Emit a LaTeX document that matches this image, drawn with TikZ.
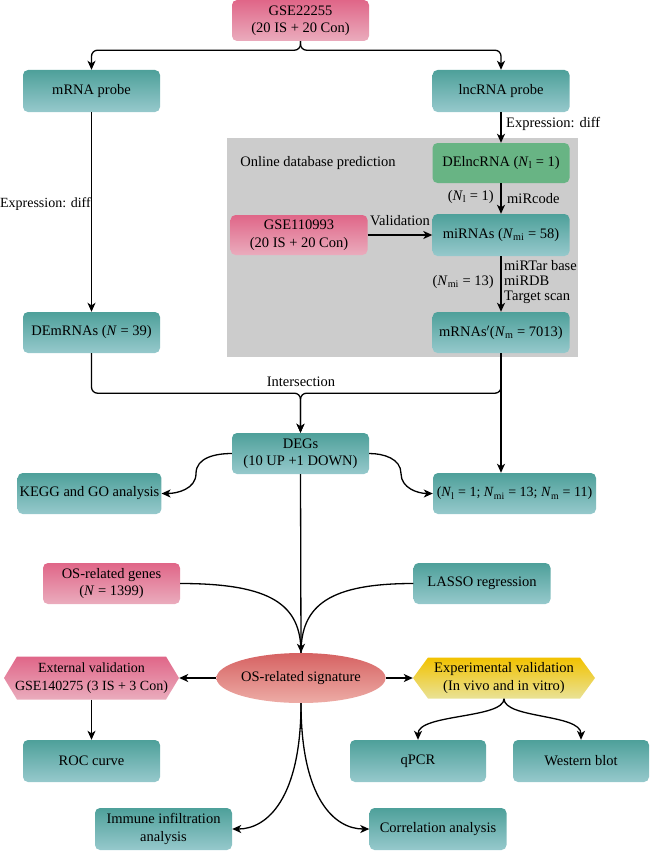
\documentclass[tikz,border=0pt]{standalone}
\usepackage{fontspec}
\setmainfont{Liberation Serif}
\usetikzlibrary{arrows.meta,shapes.geometric}
\definecolor{tealtop}{RGB}{78,160,154}
\definecolor{tealbot}{RGB}{150,201,204}
\definecolor{pinktop}{RGB}{224,102,136}
\definecolor{pinkbot}{RGB}{234,172,189}
\definecolor{greenbox}{RGB}{104,180,132}
\definecolor{graybg}{RGB}{204,204,204}
\definecolor{redtop}{RGB}{214,98,98}
\definecolor{redbot}{RGB}{237,172,166}
\definecolor{yeltop}{RGB}{242,194,0}
\definecolor{yelbot}{RGB}{233,226,150}
\begin{document}
\begin{tikzpicture}[x=1pt,y=1pt,
  fs/.style={font=\fontsize{14.5}{17.5}\selectfont},
  fsm/.style={font=\fontsize{14}{17.5}\selectfont},
  box/.style={fs, rounded corners=5pt, minimum width=137pt, minimum height=42pt, align=center, inner sep=2pt},
  tealbox/.style={box, top color=tealtop, bottom color=tealbot},
  pinkbox/.style={box, top color=pinktop, bottom color=pinkbot},
  lbl/.style={fs, inner sep=1pt},
  arr/.style={-{Stealth[length=9pt,width=8pt,inset=2.5pt]}, line width=1.3pt},
  ln/.style={line width=1.3pt},
]
\useasboundingbox (0,0) rectangle (650,-851);
\fill[graybg] (227,-138) rectangle (578,-357);
\node[lbl] (odp) at (318,-163) {Online database prediction};

\node[pinkbox, minimum height=41pt] (gse1) at (300.5,-20.5) {GSE22255\\(20 IS + 20 Con)};
\node[tealbox] (mrna) at (91.5,-91) {mRNA probe};
\node[tealbox] (lnc) at (501,-91) {lncRNA probe};
\node[box, fill=greenbox, minimum height=40pt] (delnc) at (501,-163) {DElncRNA (\textit{N}\textsubscript{l} = 1)};
\node[tealbox] (mirna) at (501,-235) {miRNAs (\textit{N}\textsubscript{mi} = 58)};
\node[pinkbox, minimum height=40pt] (gse2) at (299,-235) {GSE110993\\(20 IS + 20 Con)};
\node[tealbox, minimum height=41pt] (mrnas) at (501,-332.5) {mRNAs$'$(\textit{N}\textsubscript{m} = 7013)};
\node[tealbox, minimum height=41pt] (demrna) at (91.5,-332.5) {DEmRNAs (\textit{N} = 39)};
\node[tealbox, minimum height=41pt] (degs) at (300.5,-453.5) {DEGs\\(10 UP +1 DOWN)};
\node[tealbox, minimum width=141pt, minimum height=41pt] (kegg) at (89.5,-493.5) {KEGG and GO analysis};
\node[tealbox, minimum width=163pt, minimum height=41pt, fsm] (rbox) at (514.5,-493.5) {(\textit{N}\textsubscript{l} = 1; \textit{N}\textsubscript{mi} = 13; \textit{N}\textsubscript{m} = 11)};
\node[pinkbox, minimum height=41pt] (osg) at (111.5,-583.5) {OS-related genes\\(\textit{N} = 1399)};
\node[tealbox, minimum height=41pt] (lasso) at (482,-583.5) {LASSO regression};
\node[fs, ellipse, minimum width=157pt, minimum height=50pt, inner sep=0pt, top color=redtop, bottom color=redbot] (sig) at (301,-678) {OS-related signature};

\path[top color=pinktop, bottom color=pinkbot] (4,-678) -- (17,-656.5) -- (166,-656.5) -- (179,-678) -- (166,-699.5) -- (17,-699.5) -- cycle;
\node[fsm, align=center, minimum width=175pt, minimum height=43pt, inner sep=0pt] (extval) at (91.5,-678) {External validation\\GSE140275 (3 IS + 3 Con)};
\path[top color=yeltop, bottom color=yelbot] (413,-678) -- (428,-657.5) -- (580,-657.5) -- (595,-678) -- (580,-698.5) -- (428,-698.5) -- cycle;
\node[fs, align=center, minimum width=182pt, minimum height=41pt, inner sep=0pt] (expval) at (504,-678) {Experimental validation\\(In vivo and in vitro)};

\node[tealbox] (roc) at (91.5,-761) {ROC curve};
\node[tealbox, minimum width=136pt] (qpcr) at (418,-761) {qPCR};
\node[tealbox, minimum width=136pt] (wb) at (581,-761) {Western blot};
\node[tealbox] (imm) at (163.5,-829) {Immune infiltration\\analysis};
\node[tealbox] (corr) at (438,-829) {Correlation analysis};

% labels
\node[lbl, fsm, anchor=east, inner sep=0.5pt] (ed1) at (91.5,-204) {Expression: diff};
\node[lbl, anchor=west] (ed2) at (505,-124) {Expression: diff};
\node[lbl, anchor=east] (nl1) at (495,-197) {(\textit{N}\textsubscript{l} = 1)};
\node[lbl, anchor=west] (mirc) at (506,-199) {miRcode};
\node[lbl] (valid) at (400,-221) {Validation};
\node[lbl, anchor=east] (nmi) at (495,-282) {(\textit{N}\textsubscript{mi} = 13)};
\node[lbl, anchor=west, align=left, font=\fontsize{14.5}{15}\selectfont] (dbs) at (503,-282) {miRTar base\\miRDB\\Target scan};
\node[lbl] (inter) at (301,-382) {Intersection};

% waypoints for S-curves
\coordinate (kc) at (196,-473.5);
\coordinate (rc) at (401,-473.5);

% connectors
\draw[arr, rounded corners=6pt] (gse1.south) -- ++(0,-9) -| (mrna.north);
\draw[arr, rounded corners=6pt] (gse1.south) -- ++(0,-9) -| (lnc.north);
\draw[arr] (mrna) -- (demrna);
\draw[arr] (lnc) -- (delnc);
\draw[arr] (delnc) -- (mirna);
\draw[arr] (gse2) -- (mirna);
\draw[arr] (mirna) -- (mrnas);
\draw[arr, rounded corners=6pt] (demrna.south) -- ++(0,-40) -| (degs.north);
\draw[arr, rounded corners=6pt] (mrnas.south) -- ++(0,-40) -| (degs.north);
\draw[arr] (mrnas.south) -- (mrnas.south |- rbox.north);
\draw[arr] (degs.west) to[out=180,in=90] (kc) to[out=-90,in=0] (kegg.east);
\draw[arr] (degs.east) to[out=0,in=90] (rc) to[out=-90,in=180] (rbox.west);
\draw[arr] (degs.south) -- (sig.north);
\draw[ln] (osg.east) .. controls (272,-583.5) and (301,-605) .. (sig.north);
\draw[ln] (lasso.west) .. controls (330,-583.5) and (301,-605) .. (sig.north);
\draw[arr] (sig.west) -- (extval.east);
\draw[arr] (sig.east) -- (expval.west);
\draw[arr] (extval.south) -- (roc.north);
\draw[arr] (expval.south) .. controls +(0,-20) and +(0,26) .. (qpcr.north);
\draw[arr] (expval.south) .. controls +(0,-20) and +(0,26) .. (wb.north);
\draw[arr] (sig.south) .. controls +(0,-95) and +(35,0) .. (imm.east);
\draw[arr] (sig.south) .. controls +(0,-95) and +(-35,0) .. (corr.west);
\end{tikzpicture}
\end{document}
